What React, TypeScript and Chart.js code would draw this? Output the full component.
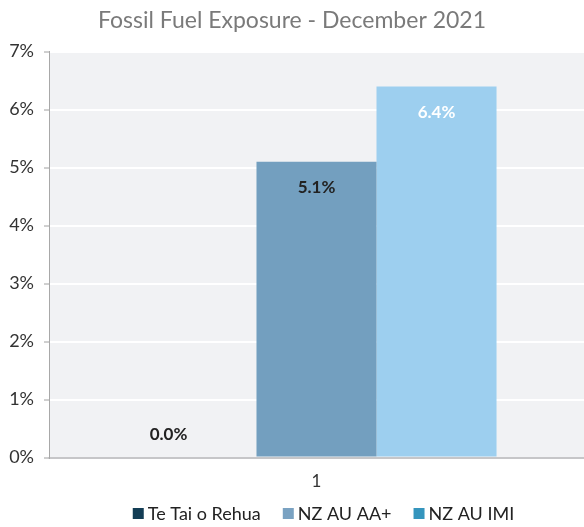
import React, { useEffect, useRef } from "react";
import { Chart, registerables } from "chart.js";

Chart.register(...registerables);

const categories = ["1"];
const seriesNames = ["Te Tai o Rehua", "NZ AU AA+", "NZ AU IMI"];
const teTaiValues = [0.0];
const aaPlusValues = [5.1];
const imiValues = [6.4];
const barColors = ["#133d55", "#739fbf", "#9dcfef"];
const legendColors = ["#133d55", "#7aa2c2", "#3595bd"];
const labelColors = ["#222222", "#222222", "#ffffff"];
const yTicks = [0, 1, 2, 3, 4, 5, 6, 7];

const FONT = "Lato, 'Open Sans', sans-serif";

const bgPlugin = {
  id: "plotBg",
  beforeDraw(chart: any) {
    const { ctx, chartArea } = chart;
    ctx.save();
    ctx.fillStyle = "#f1f2f4";
    ctx.fillRect(chartArea.left, chartArea.top, chartArea.right - chartArea.left, chartArea.bottom - chartArea.top);
    ctx.restore();
  },
};

const labelPlugin = {
  id: "barLabels",
  afterDatasetsDraw(chart: any) {
    const { ctx } = chart;
    ctx.save();
    ctx.font = `bold 17px ${FONT}`;
    ctx.textAlign = "center";
    ctx.textBaseline = "middle";
    chart.data.datasets.forEach((ds: any, di: number) => {
      const meta = chart.getDatasetMeta(di);
      meta.data.forEach((el: any, i: number) => {
        const v = ds.data[i];
        const text = `${v.toFixed(1)}%`;
        if (v === 0) {
          ctx.fillStyle = "#222222";
          ctx.fillText(text, el.x - 28, el.y - 23);
        } else {
          ctx.fillStyle = labelColors[di];
          ctx.fillText(text, el.x, el.y + 26);
        }
      });
    });
    ctx.restore();
  },
};

const legendPlugin = {
  id: "customLegend",
  afterDraw(chart: any) {
    const { ctx, chartArea } = chart;
    const box = 11;
    const gapText = 4;
    const gapItem = 22;
    ctx.save();
    ctx.font = `18px ${FONT}`;
    ctx.textBaseline = "alphabetic";
    ctx.textAlign = "left";
    const widths = seriesNames.map((n) => ctx.measureText(n).width);
    const total = widths.reduce((a, w) => a + box + gapText + w, 0) + gapItem * (seriesNames.length - 1);
    const center = (chartArea.left + chartArea.right) / 2 + 7;
    let x = center - total / 2;
    const baseline = chart.height - 7;
    seriesNames.forEach((n, i) => {
      ctx.fillStyle = legendColors[i];
      ctx.fillRect(x, baseline - 12, box, box);
      x += box + gapText;
      ctx.fillStyle = "#222222";
      ctx.fillText(n, x, baseline);
      x += widths[i] + gapItem;
    });
    ctx.restore();
  },
};

export default function App() {
  const ref = useRef<HTMLCanvasElement>(null);
  useEffect(() => {
    document.body.style.margin = "0";
    const values = [teTaiValues, aaPlusValues, imiValues];
    const chart = new Chart(ref.current!, {
      type: "bar",
      data: {
        labels: categories,
        datasets: seriesNames.map((name, i) => ({
          label: name,
          data: values[i],
          backgroundColor: barColors[i],
          borderWidth: 0,
          categoryPercentage: 0.673,
          barPercentage: 1,
        })),
      },
      plugins: [bgPlugin, labelPlugin, legendPlugin],
      options: {
        animation: false,
        responsive: false,
        layout: { padding: { left: 0, right: 0, top: 0, bottom: 29 } },
        plugins: {
          title: {
            display: true,
            text: "Fossil Fuel Exposure - December 2021",
            color: "#7a7a7a",
            font: { family: FONT, size: 23, weight: "normal" },
            padding: { top: 7, bottom: 17 },
          },
          legend: { display: false },
          tooltip: { enabled: false },
        },
        scales: {
          x: {
            grid: { display: false },
            border: { display: true, color: "#c6c6c8", width: 2 },
            ticks: { color: "#333333", font: { family: FONT, size: 17 }, padding: 6 },
          },
          y: {
            min: 0,
            max: 7,
            afterFit: (s: any) => { s.width = 49; },
            afterBuildTicks: (s: any) => { s.ticks = yTicks.map((v) => ({ value: v })); },
            grid: { color: "#ffffff", lineWidth: 2, tickColor: "#a0a0a0", tickLength: 5, tickWidth: 1 },
            border: { display: true, color: "#a8a8a8", width: 1 },
            ticks: {
              color: "#333333",
              font: { family: FONT, size: 18 },
              padding: 10,
              callback: (v: any) => `${v}%`,
            },
          },
        },
      },
    });
    return () => chart.destroy();
  }, []);
  return <canvas ref={ref} width={584} height={527} style={{ display: "block" }} />;
}
